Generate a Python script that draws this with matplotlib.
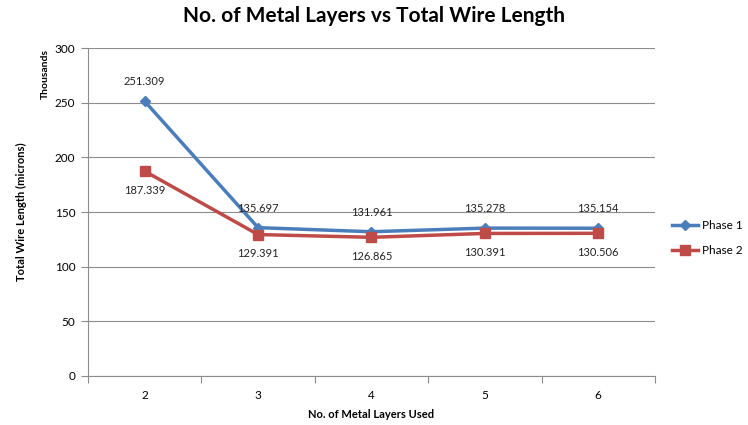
import matplotlib
matplotlib.use("Agg")
from matplotlib import pyplot as plt

layers = [2, 3, 4, 5, 6]
phase1 = [251.309, 135.697, 131.961, 135.278, 135.154]
phase2 = [187.339, 129.391, 126.865, 130.391, 130.506]
y_ticks = [0, 50, 100, 150, 200, 250, 300]

BLUE = "#4A7EBB"
RED = "#BE4B48"
GRID = "#8C8C8C"

plt.rcParams["font.family"] = ["Lato", "DejaVu Sans"]

fig = plt.figure(figsize=(7.48, 4.25), dpi=100)
ax = fig.add_axes([0.1176, 0.1153, 0.758, 0.7717])

x = list(range(len(layers)))
ax.plot(x, phase1, color=BLUE, lw=2.5, marker="D", ms=5.5,
        label="Phase 1", zorder=3)
ax.plot(x, phase2, color=RED, lw=2.5, marker="s", ms=7,
        label="Phase 2", zorder=3)

# value labels: phase 1 above the points, phase 2 below
for i, v in enumerate(phase1):
    ax.annotate(f"{v:.3f}", (i, v), xytext=(0, 10), textcoords="offset points",
                ha="center", va="bottom", fontsize=8, color="#222222")
for i, v in enumerate(phase2):
    ax.annotate(f"{v:.3f}", (i, v), xytext=(0, -10), textcoords="offset points",
                ha="center", va="top", fontsize=8, color="#222222")

ax.set_xlim(-0.5, len(layers) - 0.5)
ax.set_ylim(0, 300)
ax.set_yticks(y_ticks)
ax.set_yticklabels([str(t) for t in y_ticks], fontsize=8.5)
ax.set_xticks(x)
ax.set_xticklabels([str(n) for n in layers], fontsize=8.5)
ax.set_xticks([i - 0.5 for i in range(len(layers) + 1)], minor=True)
ax.tick_params(axis="x", which="major", length=0, pad=10)
ax.tick_params(axis="x", which="minor", length=5, color=GRID, width=0.8)
ax.tick_params(axis="y", length=5, color=GRID, width=0.8, pad=4)

ax.grid(axis="y", color=GRID, lw=0.8)
ax.set_axisbelow(True)
for side in ["top", "right"]:
    ax.spines[side].set_visible(False)
for side in ["left", "bottom"]:
    ax.spines[side].set_color(GRID)
    ax.spines[side].set_linewidth(0.8)

ax.set_xlabel("No. of Metal Layers Used", fontsize=8, fontweight="bold",
              labelpad=6)
ax.set_ylabel("Total Wire Length (microns)", fontsize=8, fontweight="bold",
              labelpad=20)
fig.text(0.06, 0.885, "Thousands", rotation=90, ha="center", va="top",
         fontsize=7.5, fontweight="bold")

fig.suptitle("No. of Metal Layers vs Total Wire Length", x=0.5, y=0.985,
             fontsize=15, fontweight="bold")

ax.legend(loc="center left", bbox_to_anchor=(1.012, 0.42), borderaxespad=0.5,
          frameon=False, fontsize=8.5, handlelength=2.2, handletextpad=0.3,
          labelspacing=1.2)

fig.savefig("out.png", dpi=100)
